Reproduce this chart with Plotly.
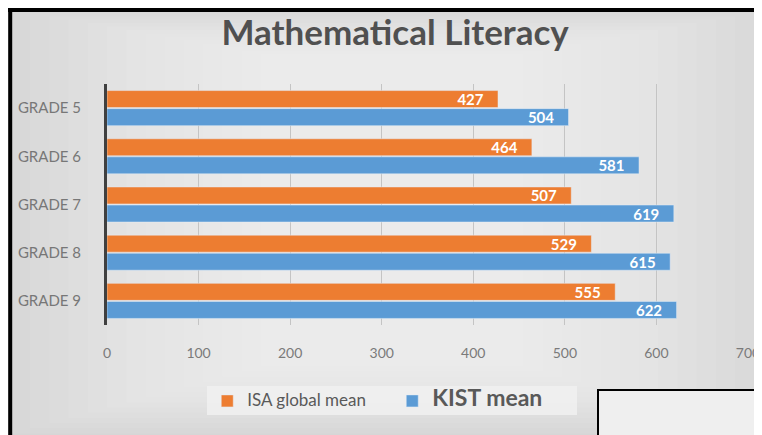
import plotly.graph_objects as go

grades = ["GRADE 5", "GRADE 6", "GRADE 7", "GRADE 8", "GRADE 9"]
isa_global = [427, 464, 507, 529, 555]
kist_mean = [504, 581, 619, 615, 622]
x_ticks = [0, 100, 200, 300, 400, 500, 600, 700]

ORANGE = "#ED7D31"
BLUE = "#5B9BD5"
FONT = "Lato, 'Open Sans', sans-serif"
PAD = "\u00a0\u00a0\u00a0"

fig = go.Figure()

fig.add_trace(go.Bar(
    y=grades, x=isa_global, orientation="h",
    name="<span style='font-size:17px'>ISA global mean</span>",
    marker=dict(color=ORANGE),
    text=[f"<b>{v}</b>{PAD}" for v in isa_global], textposition="inside",
    insidetextanchor="end", constraintext="none",
    textfont=dict(color="white", size=15, family=FONT),
))
fig.add_trace(go.Bar(
    y=grades, x=kist_mean, orientation="h",
    name="<span style='font-size:23px'><b>KIST mean</b></span>",
    marker=dict(color=BLUE),
    text=[f"<b>{v}</b>{PAD}" for v in kist_mean], textposition="inside",
    insidetextanchor="end", constraintext="none",
    textfont=dict(color="white", size=15, family=FONT),
))

# soft background glow (stand-in for the slide's gradient): nested translucent rects
shapes = []
n_glow = 14
for i in range(n_glow):
    f = i / n_glow
    shapes.append(dict(type="rect", xref="paper", yref="paper",
                       x0=-0.15 + 0.42 * f, x1=1.04 - 0.42 * f,
                       y0=-0.45 + 0.3 * f, y1=1.31 - 0.2 * f,
                       fillcolor="white", opacity=0.07, line=dict(width=0), layer="below"))

# the page has an 8px body margin, so margins are shifted by 8px
fig.update_layout(
    width=762, height=435,
    paper_bgcolor="#d6d6d6",
    plot_bgcolor="rgba(0,0,0,0)",
    margin=dict(l=99, r=22, t=76, b=118, autoexpand=False),
    title=dict(text="<b>Mathematical Literacy</b>", x=0.508, xanchor="center", y=0.943, yanchor="middle",
               font=dict(family=FONT, size=35, color="#505050")),
    barmode="group",
    bargap=0.25,
    bargroupgap=0.06,
    font=dict(family=FONT, color="#7a7a7a", size=12),
    xaxis=dict(range=[0, 700], tickvals=x_ticks, showgrid=True, gridcolor="#c4c4c4", gridwidth=1,
               zeroline=False, showline=False, ticklabelstandoff=18, automargin=False,
               tickfont=dict(size=14, color="#7a7a7a")),
    yaxis=dict(autorange="reversed", showline=True, linecolor="#404040", linewidth=3,
               ticks="", ticklabelstandoff=20, automargin=False,
               tickfont=dict(size=15, color="#777777")),
    legend=dict(orientation="h", x=0.445, xanchor="center", y=-0.315, yanchor="middle",
                bgcolor="rgba(240,240,240,0.9)", font=dict(family=FONT, color="#595959"),
                traceorder="normal", itemwidth=30, entrywidth=140),
    shapes=shapes + [
        dict(type="line", xref="paper", yref="paper", x0=-0.151, x1=-0.151, y0=-0.55, y1=1.33,
             line=dict(color="black", width=4)),
        dict(type="line", xref="paper", yref="paper", x0=-0.16, x1=1.05, y0=1.307, y1=1.307,
             line=dict(color="black", width=4)),
        dict(type="rect", xref="paper", yref="paper", x0=0.766, x1=1.05, y0=-0.27, y1=-0.55,
             fillcolor="#efefef", line=dict(color="black", width=2)),
    ],
)

fig.write_html("out.html")
